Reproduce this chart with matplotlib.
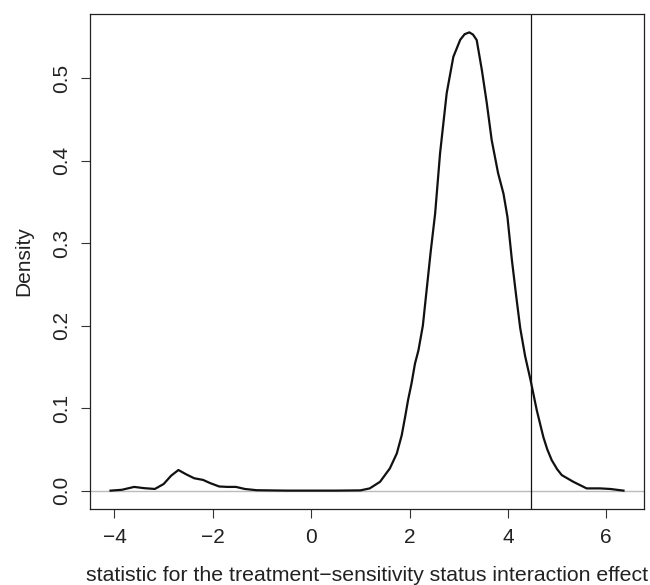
import matplotlib
matplotlib.use('Agg')
import matplotlib.pyplot as plt

# density curve
stat_x = [-4.08, -3.85, -3.60, -3.40, -3.18, -3.00, -2.85, -2.70, -2.55, -2.38,
          -2.20, -2.05, -1.87, -1.70, -1.53, -1.35, -1.11, -0.50, 0.50, 1.00,
          1.19, 1.40, 1.60, 1.74, 1.84, 1.91, 1.97, 2.04, 2.11, 2.18,
          2.27, 2.35, 2.43, 2.52, 2.62, 2.755, 2.89, 3.03, 3.12, 3.215,
          3.29, 3.365, 3.47, 3.57, 3.67, 3.80, 3.91, 3.99, 4.08, 4.17,
          4.25, 4.35, 4.46, 4.586, 4.72, 4.80, 4.89, 5.00, 5.095, 5.33,
          5.60, 5.87, 6.08, 6.35]
density = [0.0, 0.001, 0.0045, 0.003, 0.002, 0.008, 0.018, 0.025, 0.020, 0.015,
           0.013, 0.009, 0.005, 0.0045, 0.0045, 0.002, 0.0005, 0.0, 0.0, 0.0003,
           0.0027, 0.0107, 0.027, 0.045, 0.067, 0.0895, 0.110, 0.130, 0.154, 0.170,
           0.200, 0.245, 0.290, 0.336, 0.409, 0.482, 0.526, 0.5467, 0.5535, 0.5557,
           0.5530, 0.5464, 0.510, 0.470, 0.425, 0.385, 0.360, 0.332, 0.280, 0.235,
           0.197, 0.163, 0.134, 0.0976, 0.065, 0.050, 0.037, 0.026, 0.0188, 0.0107,
           0.0027, 0.0027, 0.002, 0.0]
observed = 4.46

x_ticks = [-4, -2, 0, 2, 4, 6]
y_ticks = [0.0, 0.1, 0.2, 0.3, 0.4, 0.5]

plt.rcParams['font.family'] = ['Liberation Sans', 'DejaVu Sans']
txt = '#222222'

fig = plt.figure(figsize=(6.5, 5.85), dpi=100)
ax = fig.add_axes([0.1385, 0.130, 0.8523, 0.846])

ax.axhline(0, color='#bbbbbb', lw=1.0, zorder=1)
ax.plot(stat_x, density, color='#111111', lw=1.6, zorder=3,
        solid_joinstyle='round')
ax.axvline(observed, color='#111111', lw=0.9, zorder=2)

# R-style 4% padding
xr = max(stat_x) - min(stat_x)
yr = max(density) - min(density)
ax.set_xlim(min(stat_x) - 0.04 * xr, max(stat_x) + 0.04 * xr)
ax.set_ylim(-0.04 * yr, max(density) + 0.04 * yr)

ax.set_xticks(x_ticks)
ax.set_yticks(y_ticks)
ax.set_xticklabels([('\u2212%d' % -t) if t < 0 else '%d' % t for t in x_ticks])
ax.set_yticklabels(['%.1f' % t for t in y_ticks], rotation=90, va='center')
ax.tick_params(labelsize=15, length=6.5, width=0.8, colors='#333333',
               labelcolor=txt, pad=7)
for s in ax.spines.values():
    s.set_linewidth(0.9)
    s.set_color('#222222')

ax.set_xlabel('statistic for the treatment\u2212sensitivity status interaction effect',
              fontsize=15.3, color=txt, labelpad=14)
ax.set_ylabel('Density', fontsize=15, color=txt, labelpad=14)

fig.savefig('out.png', dpi=100)
